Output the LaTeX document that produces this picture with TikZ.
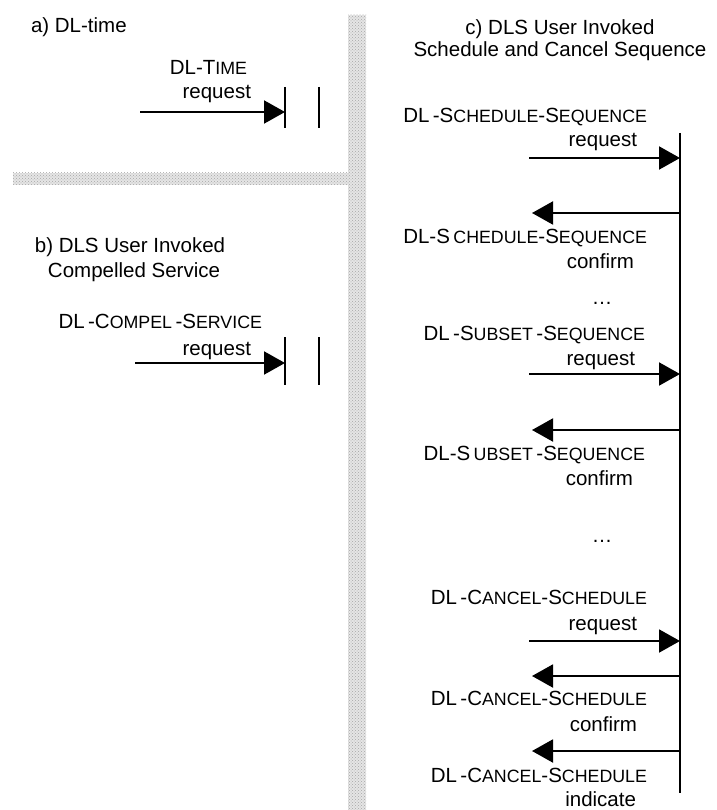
\documentclass[tikz,border=0pt]{standalone}
\usepackage{fontspec}
\setmainfont{Liberation Sans}
\usetikzlibrary{arrows.meta,patterns}
% faked small capitals
\newcommand\sm[1]{{\fontsize{17.8}{20}\selectfont #1}}

\begin{document}
\begin{tikzpicture}[x=1pt,y=-1pt,line width=2pt,
  every node/.style={font=\fontsize{20.5}{24}\selectfont,inner sep=0pt},
  msg/.style={-{Triangle[length=21pt,width=23pt]}},
  band/.style={fill=black!10,draw=none,
    postaction={pattern=crosshatch dots,pattern color=black!35}}]
  \useasboundingbox (0,0) rectangle (716,810);
  % grey separators
  \path[band] (348,15) rectangle (366,810);
  \path[band] (13,173) rectangle (348,185);

  % a) DL-time
  \node[anchor=base west] (ta) at (30,33) {a) DL-time};
  \node[anchor=base east] (ntime) at (248,75) {DL-T\sm{IME}};
  \node[anchor=base east] (rtime) at (252,99) {request};
  \coordinate (tin) at (140,112);
  \coordinate (tend) at (285,112);
  \draw[msg] (tin) -- (tend);
  \draw (285,87) -- (285,128) (319,87) -- (319,128);

  % b) compelled service
  \node[anchor=base] (tb1) at (130,252) {b) DLS User Invoked};
  \node[anchor=base] (tb2) at (134,277) {Compelled Service};
  \node[anchor=base east] (ncomp) at (263,328) {DL\,-C\sm{OMPEL}\,-S\sm{ERVICE}};
  \node[anchor=base east] (rcomp) at (252,355) {request};
  \coordinate (cin) at (135,363);
  \coordinate (cend) at (285,363);
  \draw[msg] (cin) -- (cend);
  \draw (285,337) -- (285,385) (319,337) -- (319,385);

  % c) schedule and cancel
  \node[anchor=base] (tc1) at (560,35) {c) DLS User Invoked};
  \node[anchor=base] (tc2) at (560,57) {Schedule and Cancel Sequence};
  \coordinate (ltop) at (680,133);
  \coordinate (lbot) at (680,793);
  \draw (ltop) -- (lbot);
  \foreach \y/\n in {158/ssq,374/sub,641/can}{
    \coordinate (\n) at (529,\y);
    \draw[msg] (\n) -- (\n -| ltop);
  }
  \foreach \y/\n in {213/ssqc,430/subc,676/canc,751/cani}{
    \coordinate (\n) at (532,\y);
    \draw[msg] (\n -| ltop) -- (\n);
  }
  \node[anchor=base east] (nss1) at (648,123) {DL\,-S\sm{CHEDULE}-S\sm{EQUENCE}};
  \node[anchor=base east] (rss1) at (638,147) {request};
  \node[anchor=base east] (nss2) at (648,243) {DL-S\,\sm{CHEDULE}-S\sm{EQUENCE}};
  \node[anchor=base east] (rss2) at (635,268) {confirm};
  \node[anchor=base] (dots1) at (602,304) {…};
  \node[anchor=base east] (nsb1) at (646,340) {DL\,-S\sm{UBSET}\,-S\sm{EQUENCE}};
  \node[anchor=base east] (rsb1) at (636,365) {request};
  \node[anchor=base east] (nsb2) at (646,460) {DL-S\,\sm{UBSET}\,-S\sm{EQUENCE}};
  \node[anchor=base east] (rsb2) at (634,485) {confirm};
  \node[anchor=base] (dots2) at (602,542) {…};
  \node[anchor=base east] (ncs1) at (648,604) {DL\,-C\sm{ANCEL}-S\sm{CHEDULE}};
  \node[anchor=base east] (rcs1) at (638,630) {request};
  \node[anchor=base east] (ncs2) at (648,705) {DL\,-C\sm{ANCEL}-S\sm{CHEDULE}};
  \node[anchor=base east] (rcs2) at (638,731) {confirm};
  \node[anchor=base east] (ncs3) at (648,782) {DL\,-C\sm{ANCEL}-S\sm{CHEDULE}};
  \node[anchor=base east] (rcs3) at (637,806) {indicate};
\end{tikzpicture}
\end{document}
